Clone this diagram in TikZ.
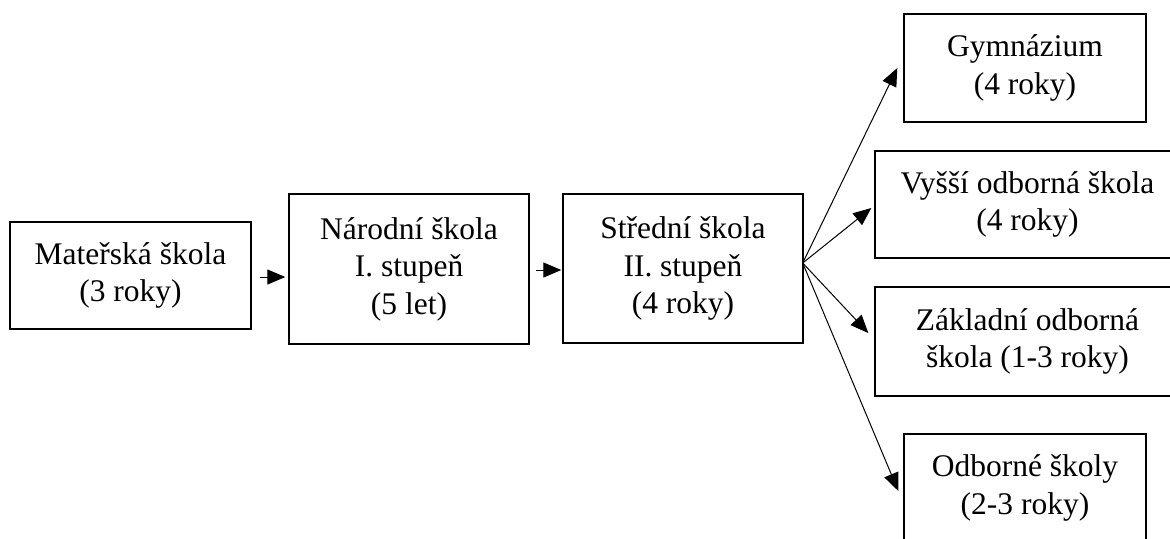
\documentclass[tikz,border=0pt]{standalone}
\usepackage{fontspec}
\setmainfont{Liberation Serif}
\usetikzlibrary{arrows.meta,calc}
\begin{document}
\begin{tikzpicture}[x=0.5pt,y=-0.5pt,
  box/.style={draw, line width=0.7pt, inner sep=0pt, align=center,
    font=\fontsize{15.75}{18.75}\selectfont},
  arr/.style={line width=0.5pt, -{Triangle[length=9pt,width=7.5pt]}}]
\useasboundingbox (0,0) rectangle (1170,538);
\node[box, minimum width=120.5pt, minimum height=53.5pt] (ms) at (130.5,275.5) {Mateřská škola\\(3 roky)};
\node[box, minimum width=120pt, minimum height=75pt] (ns) at (409,269) {Národní škola\\I. stupeň\\(5 let)};
\node[box, minimum width=120pt, minimum height=74.5pt] (ss) at (683,268.5) {Střední škola\\II. stupeň\\(4 roky)};
\node[box, minimum width=121pt, minimum height=54pt] (gym) at (1025,68) {Gymnázium\\(4 roky)};
\node[box, minimum width=152.5pt, minimum height=53.5pt] (vos) at (1027.5,204.5) {Vyšší odborná škola\\(4 roky)};
\node[box, minimum width=152.5pt, minimum height=54.5pt] (zos) at (1027.5,341.5) {Základní odborná\\škola (1-3 roky)};
\node[box, minimum width=121pt, minimum height=54pt] (os) at (1025,488) {Odborné školy\\(2-3 roky)};
\draw[arr, shorten <=4pt, shorten >=1.5pt] ($(ms.east)+(0,1.5)$) -- ($(ms.east -| ns.west)+(0,1.5)$);
\draw[arr, shorten <=3pt, shorten >=0.5pt] ($(ns.east)+(0,1)$) -- ($(ns.east -| ss.west)+(0,1)$);
\coordinate (fan) at ($(ss.east)+(-1,-5.5)$);
\coordinate (tgym) at ($(gym.west)+(-6,0)$);
\coordinate (tvos) at ($(vos.west)+(-3,3.5)$);
\coordinate (tzos) at ($(zos.west)+(-6,-8.5)$);
\coordinate (tos) at ($(os.west)+(-5,3)$);
\draw[arr] (fan) -- (tgym);
\draw[arr] (fan) -- (tvos);
\draw[arr] (fan) -- (tzos);
\draw[arr] (fan) -- (tos);
\end{tikzpicture}
\end{document}
